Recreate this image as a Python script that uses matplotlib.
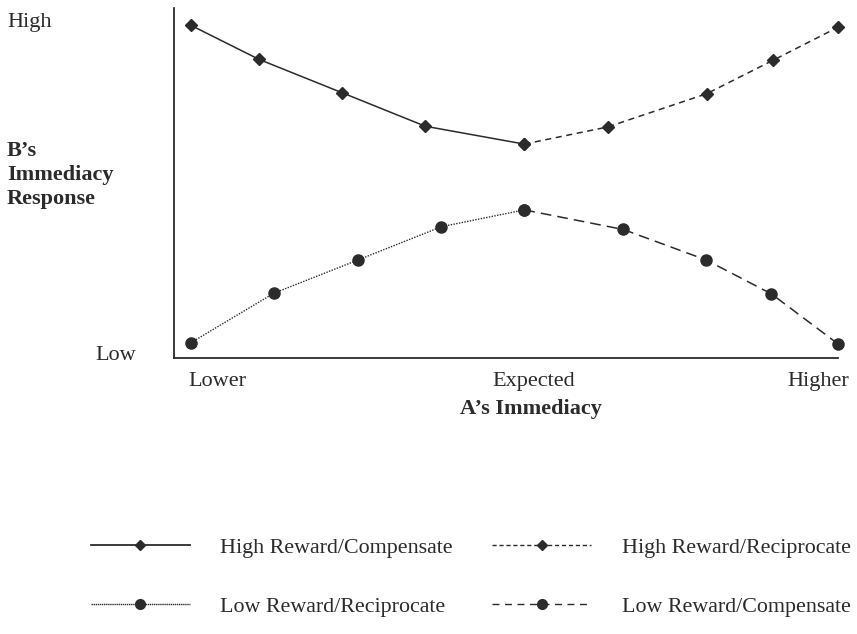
import matplotlib.pyplot as plt
from matplotlib.lines import Line2D

plt.rcParams['font.family'] = ['Liberation Serif', 'DejaVu Serif']

# A's immediacy on a 0..100 scale (Lower .. Expected .. Higher)
x_high_comp = [0, 10.5, 23.3, 36.2, 51.5]
y_high_comp = [95.1, 85.4, 75.9, 66.3, 61.2]
x_high_recip = [51.5, 64.4, 79.7, 89.9, 100]
y_high_recip = [61.2, 66.1, 75.6, 85.1, 94.6]
x_low_recip = [0, 12.8, 25.8, 38.7, 51.5]
y_low_recip = [4.5, 18.6, 28.1, 37.6, 42.4]
x_low_comp = [51.5, 66.8, 79.6, 89.7, 100]
y_low_comp = [42.4, 36.8, 28.1, 18.4, 4.1]

x_tick_pos = [0, 51.5, 100]
x_tick_labels = ['Lower', 'Expected', 'Higher']

col = '#2b2b2b'

fig = plt.figure(figsize=(8.57, 6.34), dpi=100)
ax = fig.add_axes([0.2034, 0.4349, 0.7745, 0.552])

ax.plot(x_high_comp, y_high_comp, color=col, lw=1.1, ls='-', marker='D', ms=6.5, clip_on=False)
ax.plot(x_high_recip, y_high_recip, color=col, lw=1.1, ls=(0, (4, 3)), marker='D', ms=6.5, clip_on=False)
ax.plot(x_low_recip, y_low_recip, color=col, lw=1.0, ls=(0, (1, 1)), marker='o', ms=8, clip_on=False)
ax.plot(x_low_comp, y_low_comp, color=col, lw=1.1, ls=(0, (7, 4)), marker='o', ms=8, clip_on=False)

ax.set_xlim(-2.6, 100)
ax.set_ylim(0, 100)
for s in ['top', 'right']:
    ax.spines[s].set_visible(False)
ax.spines['left'].set_color(col)
ax.spines['bottom'].set_color(col)
ax.spines['left'].set_linewidth(1.3)
ax.spines['bottom'].set_linewidth(1.3)
ax.set_xticks([])
ax.set_yticks([])

# x category labels
fs = 16
offsets = [(-2, 'left'), (6.5, 'center'), (8, 'right')]
for xp, lab, (dx, ha) in zip(x_tick_pos, x_tick_labels, offsets):
    ax.annotate(lab, (xp, 0), xycoords=('data', 'axes fraction'),
                xytext=(dx, -17), textcoords='offset points',
                ha=ha, va='center', fontsize=fs, color=col)
ax.annotate("A\u2019s Immediacy", (51.5, 0), xycoords=('data', 'axes fraction'),
            xytext=(4.5, -36.5), textcoords='offset points',
            ha='center', va='center', fontsize=fs, fontweight='bold', color=col)

fig.text(7 / 857, 1 - 22 / 634, 'High', fontsize=fs, ha='left', va='center', color=col)
fig.text(95 / 857, 1 - 355 / 634, 'Low', fontsize=fs, ha='left', va='center', color=col)
fig.text(7 / 857, 1 - 175 / 634, "B\u2019s\nImmediacy\nResponse", fontsize=fs,
         fontweight='bold', ha='left', va='center', color=col, linespacing=1.25)

handles = [
    Line2D([], [], color=col, lw=1.3, ls='-', marker='D', ms=5),
    Line2D([], [], color=col, lw=1.0, ls=(0, (3, 2)), marker='D', ms=5),
    Line2D([], [], color=col, lw=1.0, ls=(0, (1, 0.5)), marker='o', ms=7),
    Line2D([], [], color=col, lw=1.0, ls=(0, (5, 4)), marker='o', ms=7),
]
labels = ['High Reward/Compensate', 'Low Reward/Reciprocate',
          'High Reward/Reciprocate', 'Low Reward/Compensate']
order = [0, 2, 1, 3]
fig.legend([handles[i] for i in order], labels, ncol=2, frameon=False,
           loc='upper left', bbox_to_anchor=(71 / 857, 1 - 518 / 634),
           fontsize=15.8, handlelength=4.5, handletextpad=1.4,
           columnspacing=1.8, labelspacing=1.75, numpoints=1,
           labelcolor=col)

fig.savefig('out.png', dpi=100)
